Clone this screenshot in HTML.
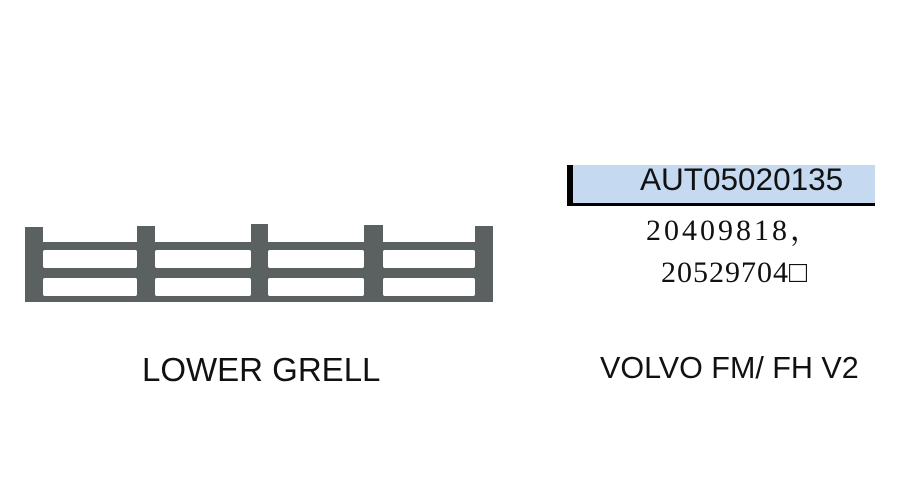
<!DOCTYPE html>
<html><head><meta charset="utf-8"><style>
html,body{margin:0;padding:0;background:#fff;}
body{width:900px;height:500px;position:relative;overflow:hidden;}
.t{position:absolute;white-space:nowrap;line-height:1;}
.s{font-family:"Liberation Sans",Arial,sans-serif;color:#111;}
.r{font-family:"Liberation Serif","Noto Serif CJK SC",serif;color:#111;}
</style></head><body>
<svg width="900" height="500" style="position:absolute;left:0;top:0">
  <g fill="#5b6060">
    <rect x="25" y="227" width="18" height="75"/>
    <rect x="137" y="226" width="18" height="76"/>
    <rect x="251" y="224" width="17" height="78"/>
    <rect x="364" y="225" width="19" height="77"/>
    <rect x="475" y="226" width="18" height="76"/>
    <rect x="25" y="242" width="468" height="60"/>
  </g>
  <g fill="#fff">
    <rect x="43" y="250" width="94" height="18" rx="2"/>
    <rect x="155" y="250" width="96" height="18" rx="2"/>
    <rect x="268" y="250" width="96" height="18" rx="2"/>
    <rect x="383" y="250" width="92" height="18" rx="2"/>
    <rect x="43" y="278" width="94" height="18" rx="2"/>
    <rect x="155" y="278" width="96" height="18" rx="2"/>
    <rect x="268" y="278" width="96" height="18" rx="2"/>
    <rect x="383" y="278" width="92" height="18" rx="2"/>
  </g>
  <rect x="568" y="165" width="307" height="39" fill="#c5d9f1"/>
  <rect x="567" y="165" width="6" height="41" fill="#000"/>
  <rect x="567" y="203" width="308" height="3" fill="#000"/>
</svg>
<div class="t s" style="left:640px;top:164px;font-size:31.5px;">AUT05020135</div>
<div class="t r" style="left:646px;top:216px;font-size:30px;letter-spacing:3px;">20409818，</div>
<div class="t r" style="left:661px;top:258px;font-size:30px;letter-spacing:1px;">20529704□</div>
<div class="t s" style="left:142px;top:353px;font-size:33px;">LOWER GRELL</div>
<div class="t s" style="left:600px;top:353px;font-size:30.5px;">VOLVO FM/ FH V2</div>
</body></html>
